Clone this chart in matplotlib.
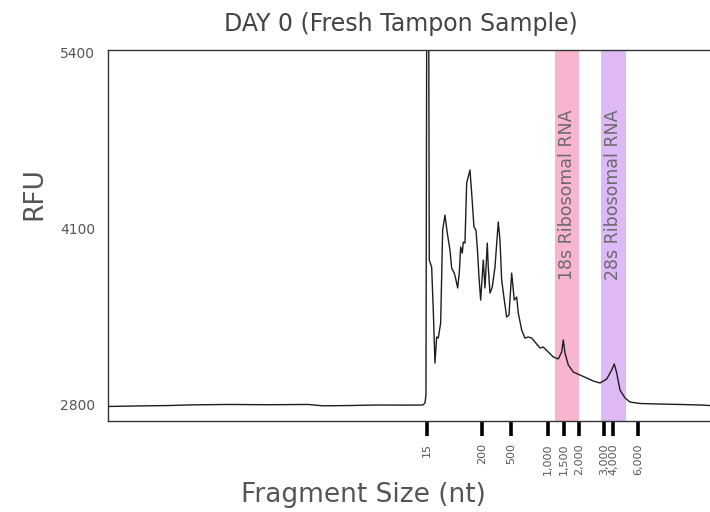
import numpy as np
import matplotlib
matplotlib.use("Agg")
import matplotlib.pyplot as plt

# migration time (s) and fluorescence (RFU)
time = [0.0, 3.0, 6.0, 8.5, 12.0, 16.0, 20.0, 21.5, 24.0, 27.0, 30.0, 31.5, 31.7, 31.8,
        31.9, 32.05, 32.13, 32.37, 32.53, 32.7, 32.87, 33.03, 33.27, 33.47, 33.7, 33.93,
        34.2, 34.37, 34.63, 34.8, 34.97, 35.13, 35.27, 35.43, 35.53, 35.7, 35.87, 36.2,
        36.37, 36.6, 36.8, 36.97, 37.1, 37.27, 37.53, 37.7, 37.93, 38.03, 38.2, 38.43,
        38.7, 39.03, 39.2, 39.37, 39.63, 39.87, 40.1, 40.37, 40.63, 40.87, 41.03, 41.37,
        41.7, 42.03, 42.37, 42.7, 43.2, 43.53, 44.03, 44.53, 45.03, 45.37, 45.53, 45.7,
        46.03, 46.53, 47.2, 47.87, 48.53, 49.2, 49.87, 50.37, 50.63, 50.87, 51.2, 51.7,
        52.2, 53.2, 55.2, 57.2, 59.2, 60.2]
rfu = [2789, 2793, 2796, 2801, 2804, 2802, 2804, 2794, 2796, 2800, 2799, 2800, 2815, 2874,
       6500, 6500, 3868, 3816, 3500, 3109, 3301, 3293, 3404, 4089, 4199, 4067,
       3942, 3809, 3772, 3721, 3662, 3772, 3964, 3919, 4000, 3993, 4435, 4531,
       4361, 4111, 4089, 3919, 3743, 3573, 3868, 3662, 3993, 3816, 3625, 3669,
       3816, 4148, 4015, 3721, 3573, 3448, 3463, 3772, 3573, 3595, 3478, 3352,
       3293, 3301, 3293, 3264, 3220, 3227, 3190, 3154, 3139, 3190, 3279, 3183,
       3095, 3043, 3021, 2999, 2977, 2962, 2991, 3058, 3102, 3036, 2910, 2852,
       2822, 2811, 2807, 2804, 2800, 2796]

size_pos = [31.9, 37.4, 40.3, 44.0, 45.6, 47.1, 49.6, 50.5, 53.0]
size_labels = ["15", "200", "500", "1,000", "1,500", "2,000", "3,000", "4,000", "6,000"]

rfu_ticks = [2800, 4100, 5400]

bands = [(44.7, 47.1, "#f9b4d0", "18s Ribosomal RNA"),
         (49.3, 51.8, "#ddb9f6", "28s Ribosomal RNA")]

fig = plt.figure(figsize=(7.1, 5.12), dpi=100)
ax = fig.add_axes([0.152, 0.1777, 0.848, 0.7246])

for x0, x1, c, lab in bands:
    ax.axvspan(x0, x1, color=c, lw=0, zorder=0)
    ax.text((x0 + x1) / 2, 4350, lab, rotation=90, ha="center", va="center",
            fontsize=12.5, color="#6b6b6b", zorder=1)

ax.plot(time, rfu, color="#1e1e1e", lw=1.0, zorder=2)

ax.set_xlim(0, 60.2)
ax.set_ylim(2682, 5415)

ax.set_xticks(size_pos)
ax.set_xticklabels(size_labels, rotation=90, fontsize=8, color="#555555",
                   ha="right", va="center", rotation_mode="anchor")
ax.tick_params(axis="x", length=11, width=2.6, color="black", pad=5)
ax.set_yticks(rfu_ticks)
ax.set_yticklabels([str(t) for t in rfu_ticks], fontsize=10, color="#555555")
ax.tick_params(axis="y", length=0, pad=9)

for s in ["left", "top", "bottom"]:
    ax.spines[s].set_color("#333333")
    ax.spines[s].set_linewidth(1.0)
ax.spines["right"].set_visible(False)

ax.set_title("DAY 0 (Fresh Tampon Sample)", fontsize=17, color="#444444", pad=14,
             x=0.487)
ax.set_xlabel("Fragment Size (nt)", fontsize=19, color="#555555")
ax.xaxis.set_label_coords(0.424, -0.165)
ax.set_ylabel("RFU", fontsize=19, color="#555555")
ax.yaxis.set_label_coords(-0.101, 0.612)

fig.savefig("out.png", dpi=100)
